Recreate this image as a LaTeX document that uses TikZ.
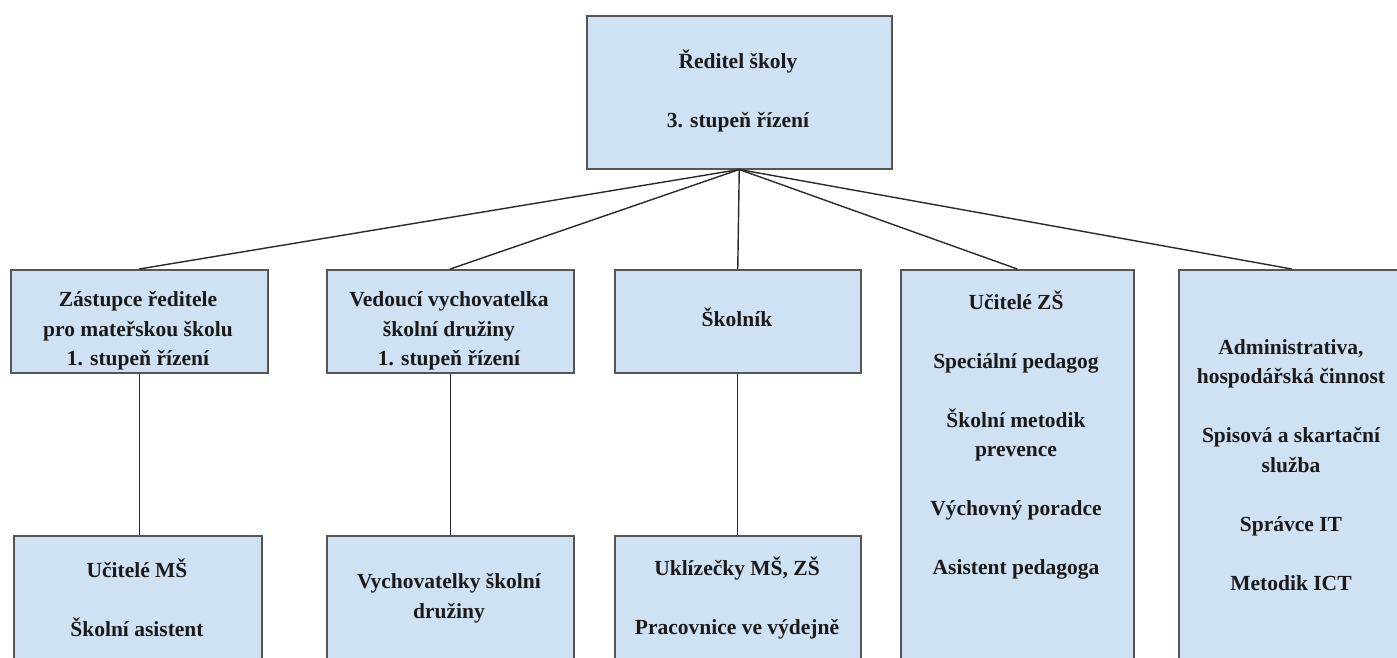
\documentclass[tikz,border=0pt]{standalone}
\usepackage{fontspec}
\setmainfont{Liberation Serif}
\definecolor{boxfill}{HTML}{CFE2F3}
\definecolor{boxline}{HTML}{555555}
\definecolor{connline}{HTML}{2A2A2A}
\definecolor{txt}{HTML}{1A1A1A}
\tikzset{
  orgbox/.style={draw=boxline, fill=boxfill, line width=1.5pt, rectangle, inner sep=0pt, anchor=north west},
  orgtext/.style={align=center, inner sep=0pt, text=txt, font=\fontsize{21.5}{29.5}\selectfont\bfseries},
  connector/.style={draw=connline, line width=1.4pt}
}
\begin{document}
\begin{tikzpicture}[x=1pt,y=-1pt]
\useasboundingbox (0,0) rectangle (1397,657);
\clip (0,0) rectangle (1397,657);
\fill[white] (0,0) rectangle (1397,657);
% boxes
\node[orgbox, minimum width=305pt, minimum height=153pt] (top) at (586,15) {};
\node[orgbox, minimum width=257pt, minimum height=103pt] (b1) at (10,269) {};
\node[orgbox, minimum width=247pt, minimum height=103pt] (b2) at (326,269) {};
\node[orgbox, minimum width=246pt, minimum height=103pt] (b3) at (614,269) {};
\node[orgbox, minimum width=233pt, minimum height=420pt] (b4) at (900,269) {};
\node[orgbox, minimum width=226pt, minimum height=420pt] (b5) at (1178,269) {};
\node[orgbox, minimum width=248pt, minimum height=160pt] (c1) at (13,535) {};
\node[orgbox, minimum width=247pt, minimum height=160pt] (c2) at (326,535) {};
\node[orgbox, minimum width=246pt, minimum height=160pt] (c3) at (614,535) {};
% texts
\node[orgtext] (ttop) at (738,91) {Ředitel školy\\[29.5pt]3. stupeň řízení};
\node[orgtext] (tb1) at (138,331) {Zástupce ředitele\\pro mateřskou školu\\1. stupeň řízení};
\node[orgtext] (tb2) at (449,331) {Vedoucí vychovatelka\\školní družiny\\1. stupeň řízení};
\node[orgtext] (tb3) at (737,317) {Školník};
\node[orgtext] (tb4) at (1016,435) {Učitelé ZŠ\\[29.5pt]Speciální pedagog\\[29.5pt]Školní metodik\\prevence\\[29.5pt]Výchovný poradce\\[29.5pt]Asistent pedagoga};
\node[orgtext] (tb5) at (1291,465) {Administrativa,\\hospodářská činnost\\[29.5pt]Spisová a skartační\\služba\\[29.5pt]Správce IT\\[29.5pt]Metodik ICT};
\node[orgtext] (tc1) at (137,598) {Učitelé MŠ\\[29.5pt]Školní asistent};
\node[orgtext] (tc2) at (449,598) {Vychovatelky školní\\družiny};
\node[orgtext] (tc3) at (737,598) {Uklízečky MŠ, ZŠ\\[29.5pt]Pracovnice ve výdejně};
% connectors
\draw[connector] (top.south) -- (b1.north);
\draw[connector] (top.south) -- (b2.north);
\draw[connector] (top.south) -- (b3.north);
\draw[connector] (top.south) -- (b4.north);
\draw[connector] (top.south) -- (b5.north);
\draw[connector] (b1.south) -- (b1.south |- c1.north);
\draw[connector] (b2.south) -- (b2.south |- c2.north);
\draw[connector] (b3.south) -- (b3.south |- c3.north);
\end{tikzpicture}
\end{document}
